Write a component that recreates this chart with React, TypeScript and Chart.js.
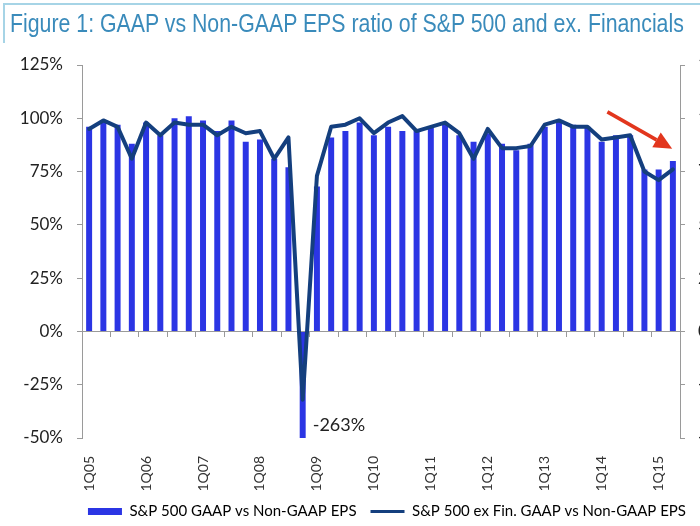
import React, { useEffect, useRef, useState } from 'react';
import { Chart, registerables } from 'chart.js';

Chart.register(...registerables);

const titleText = 'Figure 1: GAAP vs Non-GAAP EPS ratio of S&P 500 and ex. Financials';

const categories = [
  '1Q05', '2Q05', '3Q05', '4Q05',
  '1Q06', '2Q06', '3Q06', '4Q06',
  '1Q07', '2Q07', '3Q07', '4Q07',
  '1Q08', '2Q08', '3Q08', '4Q08',
  '1Q09', '2Q09', '3Q09', '4Q09',
  '1Q10', '2Q10', '3Q10', '4Q10',
  '1Q11', '2Q11', '3Q11', '4Q11',
  '1Q12', '2Q12', '3Q12', '4Q12',
  '1Q13', '2Q13', '3Q13', '4Q13',
  '1Q14', '2Q14', '3Q14', '4Q14',
  '1Q15', '2Q15',
];

// S&P 500 GAAP vs Non-GAAP EPS (%)
const gaapRatio = [
  96, 99, 97, 88,
  98, 92, 100, 101,
  99, 94, 99, 89,
  90, 81, 77, -263,
  68, 91, 94, 98,
  92, 96, 94, 94,
  96, 98, 92, 89,
  93, 88, 85, 88,
  96, 99, 97, 96,
  89, 92, 92, 76,
  76, 80,
];

// S&P 500 ex Fin. GAAP vs Non-GAAP EPS (%)
const exFinRatio = [
  95, 99, 96, 81,
  98, 92, 98, 97,
  97, 92, 96, 93,
  94, 81, 91, -32,
  73, 96, 97, 100,
  93, 98, 101, 94,
  96, 98, 93, 81,
  95, 86, 86, 87,
  97, 99, 96, 96,
  90, 91, 92, 75,
  71, 76,
];

const yMin = -50;
const yMax = 125;
const yStep = 25;

const seriesLabels = ['S&P 500 GAAP vs Non-GAAP EPS', 'S&P 500 ex Fin. GAAP vs Non-GAAP EPS'];

const outlierIndex = 15;
const outlierText = '-263%';
const outlierLabelValue = -44;

// annotation arrow: [category index, value %]
const arrowFrom = [36.4, 103];
const arrowTo = [40.95, 85.7];

const barColor = '#2b35e4';
const lineColor = '#143f7e';
const axisColor = '#9a9a9a';
const arrowColor = '#e2361d';

const titleFont = '26px "Liberation Sans", Arial, sans-serif';
const titleTargetWidth = 675;

const annotationPlugin = {
  id: 'annotationPlugin',
  afterDatasetsDraw(chart: any) {
    const { ctx } = chart;
    const xs = chart.scales.x;
    const ys = chart.scales.y;
    const bar = chart.getDatasetMeta(0).data[outlierIndex];
    ctx.save();
    ctx.font = '18px Lato';
    ctx.fillStyle = '#222';
    ctx.textBaseline = 'middle';
    ctx.textAlign = 'left';
    ctx.fillText(outlierText, bar.x + 10, ys.getPixelForValue(outlierLabelValue));

    const x0 = xs.getPixelForValue(arrowFrom[0]);
    const y0 = ys.getPixelForValue(arrowFrom[1]);
    const x1 = xs.getPixelForValue(arrowTo[0]);
    const y1 = ys.getPixelForValue(arrowTo[1]);
    const ang = Math.atan2(y1 - y0, x1 - x0);
    const L = 18;
    const W = 8.5;
    const bx = x1 - L * Math.cos(ang);
    const by = y1 - L * Math.sin(ang);
    ctx.strokeStyle = arrowColor;
    ctx.fillStyle = arrowColor;
    ctx.lineWidth = 3.5;
    ctx.beginPath();
    ctx.moveTo(x0, y0);
    ctx.lineTo(bx, by);
    ctx.stroke();
    ctx.beginPath();
    ctx.moveTo(x1, y1);
    ctx.lineTo(bx - W * Math.sin(ang), by + W * Math.cos(ang));
    ctx.lineTo(bx + W * Math.sin(ang), by - W * Math.cos(ang));
    ctx.closePath();
    ctx.fill();
    ctx.restore();
  },
};

function measureTitleScale(): number {
  try {
    const c = document.createElement('canvas');
    const g = c.getContext('2d');
    if (!g) return 0.8;
    g.font = titleFont;
    const w = g.measureText(titleText).width;
    return w > 0 ? Math.min(1, titleTargetWidth / w) : 0.8;
  } catch (e) {
    return 0.8;
  }
}

export default function App() {
  const ref = useRef<HTMLCanvasElement>(null);
  const [titleScale] = useState(() => measureTitleScale());

  useEffect(() => {
    if (!ref.current) return;
    const tickFont = { family: 'Lato', size: 17 };
    const chart = new Chart(ref.current, {
      type: 'bar',
      data: {
        labels: categories,
        datasets: [
          {
            type: 'bar',
            label: seriesLabels[0],
            data: gaapRatio,
            backgroundColor: barColor,
            borderWidth: 0,
            barPercentage: 0.42,
            categoryPercentage: 1,
            order: 1,
            xAxisID: 'x',
            yAxisID: 'y',
          },
          {
            type: 'line',
            label: seriesLabels[1],
            data: exFinRatio,
            borderColor: lineColor,
            backgroundColor: lineColor,
            borderWidth: 4,
            pointRadius: 0,
            tension: 0,
            borderJoinStyle: 'round',
            borderCapStyle: 'round',
            order: 0,
            xAxisID: 'x',
            yAxisID: 'y',
          },
        ] as any,
      },
      options: {
        responsive: false,
        animation: false,
        devicePixelRatio: 1,
        layout: { padding: { top: 65, left: 0, right: 0, bottom: -3 } },
        plugins: {
          title: { display: false },
          tooltip: { enabled: false },
          legend: {
            position: 'bottom',
            align: 'end',
            fullSize: true,
            labels: {
              usePointStyle: true,
              pointStyleWidth: 34,
              boxHeight: 7,
              padding: 14,
              color: '#333',
              font: { family: 'Lato', size: 15 },
              generateLabels: () => [
                {
                  text: seriesLabels[0],
                  fillStyle: barColor,
                  strokeStyle: barColor,
                  lineWidth: 0,
                  pointStyle: 'rect',
                  datasetIndex: 0,
                  hidden: false,
                },
                {
                  text: seriesLabels[1],
                  fillStyle: lineColor,
                  strokeStyle: lineColor,
                  lineWidth: 3,
                  pointStyle: 'line',
                  datasetIndex: 1,
                  hidden: false,
                },
              ],
            },
          },
        },
        scales: {
          x: {
            type: 'category',
            axis: 'x',
            position: 'bottom',
            offset: true,
            grid: { display: false, offset: true },
            border: { display: false },
            ticks: {
              autoSkip: false,
              minRotation: 90,
              maxRotation: 90,
              padding: 10,
              color: '#333',
              font: { family: 'Lato', size: 14 },
              callback: (_v: any, i: number) => (i % 4 === 0 ? categories[i] : ''),
            },
            afterFit: (s: any) => {
              s.height = 52;
            },
          },
          x2: {
            type: 'category',
            axis: 'x',
            position: { y: 0 },
            offset: true,
            grid: {
              display: true,
              offset: true,
              drawOnChartArea: false,
              drawTicks: true,
              tickLength: 5,
              lineWidth: 1,
              color: (c: any) => (c.index % 2 === 0 ? axisColor : 'rgba(0,0,0,0)'),
            },
            border: { display: true, color: axisColor, width: 1 },
            ticks: { display: false },
          },
          y: {
            type: 'linear',
            position: 'left',
            min: yMin,
            max: yMax,
            ticks: {
              stepSize: yStep,
              padding: 14,
              color: '#222',
              font: tickFont,
              callback: (v: any) => v + '%',
            },
            grid: { drawOnChartArea: false, tickLength: 5, color: axisColor },
            border: { color: axisColor },
            afterFit: (s: any) => {
              s.width = 82;
            },
          },
          y2: {
            type: 'linear',
            position: 'right',
            min: yMin,
            max: yMax,
            ticks: {
              stepSize: yStep,
              padding: 13,
              color: '#222',
              font: tickFont,
              callback: (v: any) => v + '%',
            },
            grid: { drawOnChartArea: false, tickLength: 5, color: axisColor },
            border: { color: axisColor },
            afterFit: (s: any) => {
              s.width = 20;
            },
          },
        },
      } as any,
      plugins: [annotationPlugin],
    });
    return () => chart.destroy();
  }, []);

  return (
    <div
      style={{
        position: 'fixed',
        left: 0,
        top: 0,
        width: 700,
        height: 526,
        background: '#fff',
        overflow: 'hidden',
      }}
    >
      <canvas
        ref={ref}
        width={700}
        height={526}
        style={{ position: 'absolute', left: 0, top: 0, width: 700, height: 526, display: 'block' }}
      />
      <div
        style={{
          position: 'absolute',
          left: 3,
          top: 3,
          right: 0,
          height: 38,
          borderTop: '2px solid #a6d4e6',
          borderLeft: '2px solid #a6d4e6',
        }}
      />
      <div
        style={{
          position: 'absolute',
          left: 10,
          top: 8,
          font: titleFont,
          lineHeight: '30px',
          color: '#3a8bbb',
          whiteSpace: 'nowrap',
          transform: `scaleX(${titleScale})`,
          transformOrigin: 'left top',
        }}
      >
        {titleText}
      </div>
    </div>
  );
}
